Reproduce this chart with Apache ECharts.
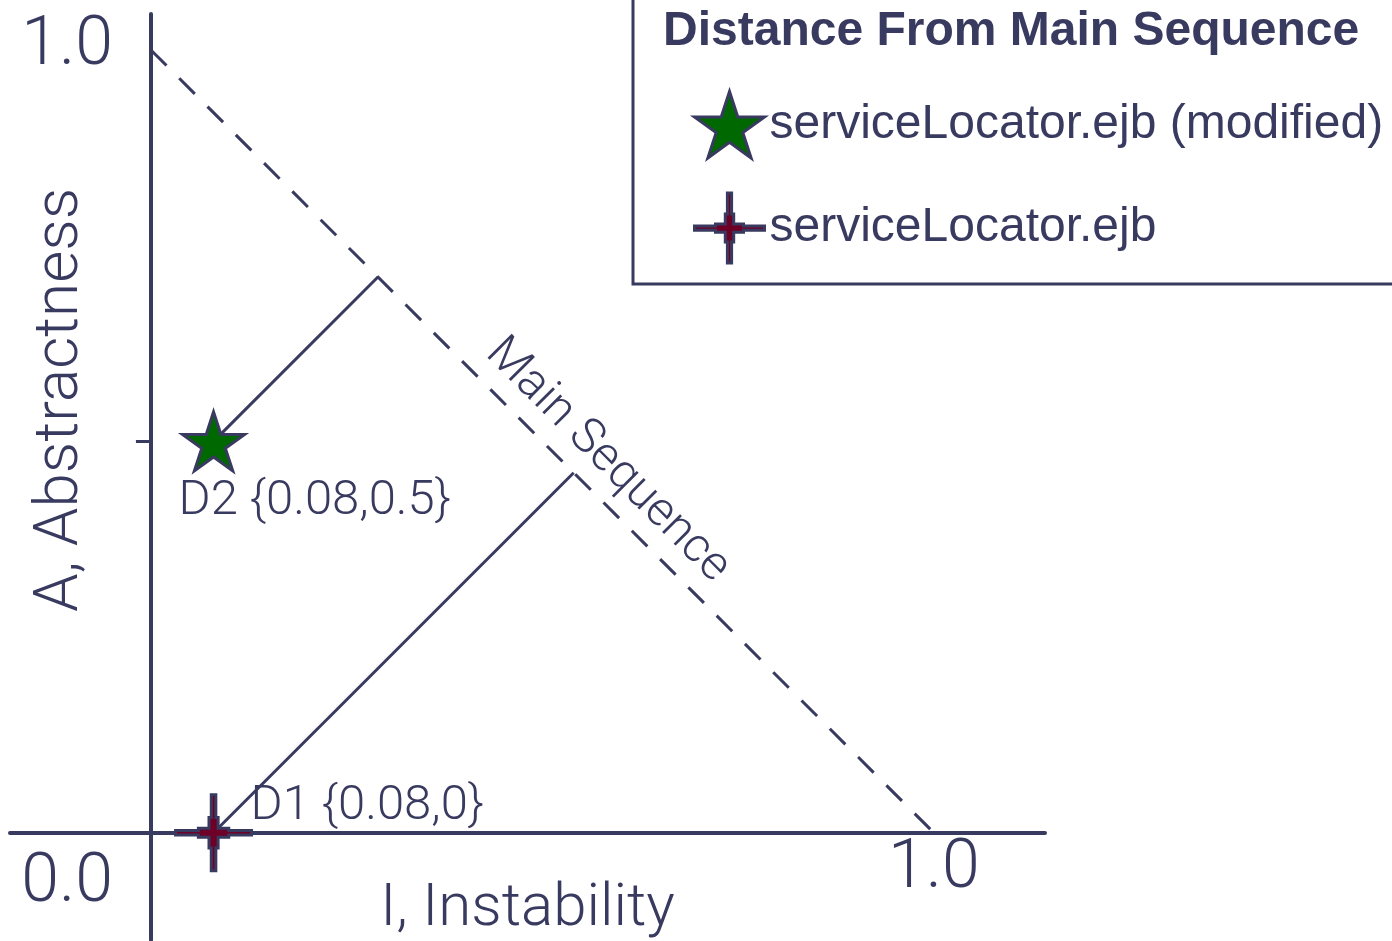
<!DOCTYPE html>
<html>
<head>
<meta charset="utf-8">
<script src="https://cdn.jsdelivr.net/npm/echarts@6/dist/echarts.min.js"></script>
<style>
html, body { margin: 0; padding: 0; background: #fff; }
#chart { width: 1392px; height: 941px; }
</style>
</head>
<body>
<div id="chart"></div>
<script>
// values
var seriesNames = ['serviceLocator.ejb (modified)', 'serviceLocator.ejb'];
var pointNames = ['D2', 'D1'];
var instability = [0.08, 0.08];
var abstractness = [0.5, 0];
var mainSeqX = [0, 1];
var mainSeqY = [1, 0];
var xTickValues = [1];
var yTickValues = [0, 1];
var tickText = { 0: '0.0', 1: '1.0' };

var NAVY = '#393a5f';
var GREEN = '#006800';
var MAROON = '#6e0028';
var THIN = 'Roboto';

var starPath = 'path://M0,-100 L22.5,-30.9 L95.1,-30.9 L36.3,11.8 L58.8,80.9 L0,38.2 L-58.8,80.9 L-36.3,11.8 L-95.1,-30.9 L-22.5,-30.9 Z';
var crossPath = 'path://M-6,-100 L6,-100 L6,-40 L12,-40 L12,-12 L40,-12 L40,-6 L100,-6 L100,6 L40,6 L40,12 L12,12 L12,40 L6,40 L6,100 L-6,100 L-6,40 L-12,40 L-12,12 L-40,12 L-40,6 L-100,6 L-100,-6 L-40,-6 L-40,-12 L-12,-12 L-12,-40 L-6,-40 Z';
var symbols = [starPath, crossPath];
var symbolSizes = [62, 76];
var fills = [GREEN, MAROON];
var labelOffsets = [[-35, 60], [37, -26]];

function foot(x, y) {
  // nearest point on the main sequence A + I = 1
  return [(1 + x - y) / 2, (1 - x + y) / 2];
}

var series = [];

series.push({
  name: 'Main Sequence',
  type: 'line',
  data: [],
  silent: true,
  markLine: {
    silent: true,
    symbol: 'none',
    lineStyle: { color: NAVY, width: 3, type: [22, 18] },
    label: {
      show: true,
      position: 'insideMiddleTop',
      formatter: 'Main Sequence',
      distance: 12,
      offset: [68, 0],
      color: NAVY,
      fontFamily: THIN,
      fontWeight: 300,
      fontSize: 48
    },
    data: [[{ coord: [mainSeqX[0], mainSeqY[0]] }, { coord: [mainSeqX[1], mainSeqY[1]] }]]
  }
});

for (var i = 0; i < seriesNames.length; i++) {
  var f = foot(instability[i], abstractness[i]);
  series.push({
    name: 'dist' + i,
    type: 'line',
    silent: true,
    symbol: 'none',
    z: 1,
    lineStyle: { color: NAVY, width: 3 },
    data: [[instability[i], abstractness[i]], f]
  });
}

for (var j = 0; j < seriesNames.length; j++) {
  series.push({
    name: seriesNames[j],
    type: 'scatter',
    z: 5,
    symbol: symbols[j],
    symbolSize: symbolSizes[j],
    symbolKeepAspect: true,
    itemStyle: { color: fills[j], borderColor: NAVY, borderWidth: 3, opacity: 1 },
    label: {
      show: true,
      position: 'inside',
      align: 'left',
      verticalAlign: 'middle',
      offset: labelOffsets[j],
      color: NAVY,
      fontFamily: THIN,
      fontWeight: 300,
      fontSize: 49,
      formatter: (function (k) {
        return function () {
          return pointNames[k] + ' {' + instability[k] + ',' + abstractness[k] + '}';
        };
      })(j)
    },
    data: [[instability[j], abstractness[j]]]
  });
}

var chart = echarts.init(document.getElementById('chart'));
chart.setOption({
  backgroundColor: '#fff',
  animation: false,
  title: {
    text: 'Distance From Main Sequence',
    left: 658,
    top: 3,
    textStyle: { color: NAVY, fontFamily: 'Liberation Sans', fontWeight: 'bold', fontSize: 48 }
  },
  legend: {
    data: seriesNames,
    orient: 'vertical',
    left: 688,
    top: 85,
    itemWidth: 70,
    itemHeight: 70,
    itemGap: 32,
    itemStyle: { borderWidth: 3 },
    textStyle: { color: NAVY, fontFamily: 'Liberation Sans', fontSize: 48 }
  },
  graphic: [{
    type: 'rect',
    silent: true,
    shape: { x: 633, y: -10, width: 800, height: 294 },
    style: { fill: 'none', stroke: NAVY, lineWidth: 3 }
  }],
  grid: { left: 10, right: 347, top: 14, bottom: 1, containLabel: false, outerBoundsMode: 'none' },
  xAxis: {
    type: 'value',
    min: -0.18,
    max: 1.142,
    splitLine: { show: false },
    axisLine: { onZero: true, lineStyle: { color: NAVY, width: 4 } },
    axisTick: { show: false },
    axisLabel: {
      customValues: xTickValues,
      formatter: function (v) { return tickText[v]; },
      margin: -104,
      color: NAVY,
      fontFamily: THIN,
      fontWeight: 300,
      fontSize: 68
    },
    name: 'I, Instability',
    nameLocation: 'middle',
    nameGap: -60,
    nameMoveOverlap: false,
    nameTextStyle: { color: NAVY, fontFamily: THIN, fontWeight: 300, fontSize: 60 }
  },
  yAxis: {
    type: 'value',
    min: -0.137,
    max: 1.046,
    splitLine: { show: false },
    axisLine: { onZero: true, lineStyle: { color: NAVY, width: 4 } },
    axisTick: { show: true, customValues: [abstractness[0]], length: 15, lineStyle: { color: NAVY, width: 3 } },
    axisLabel: {
      customValues: yTickValues,
      formatter: function (v) { return v === 0 ? '{lo|' + tickText[v] + '}' : '{hi|' + tickText[v] + '}'; },
      margin: -103,
      rich: {
        lo: { padding: [102, 0, 0, 0], color: NAVY, fontFamily: THIN, fontWeight: 300, fontSize: 68 },
        hi: { padding: [0, 0, 6, 0], color: NAVY, fontFamily: THIN, fontWeight: 300, fontSize: 68 }
      }
    },
    name: 'A, Abstractness',
    nameLocation: 'middle',
    nameRotate: 90,
    nameGap: -82,
    nameMoveOverlap: false,
    nameTextStyle: { color: NAVY, fontFamily: THIN, fontWeight: 300, fontSize: 62, padding: [0, 0, 0, 154] }
  },
  series: series
});
</script>
</body>
</html>
